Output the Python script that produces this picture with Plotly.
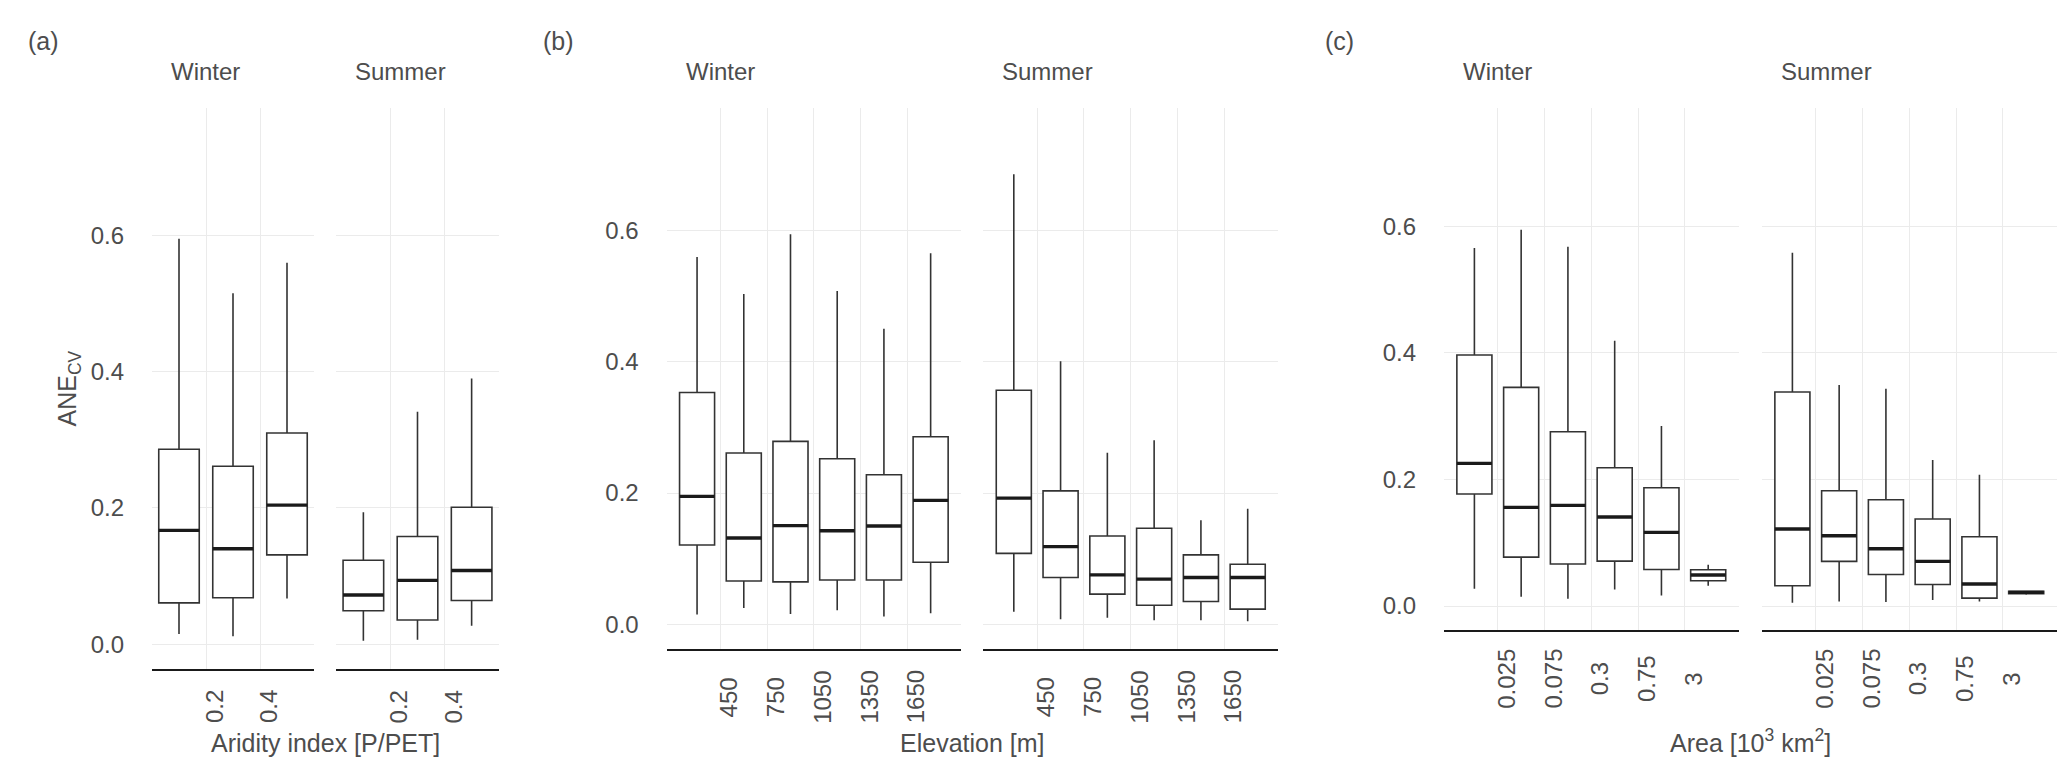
import plotly.graph_objects as go

W, H = 2067, 768
FONT = "Liberation Sans, Arial, sans-serif"
TXT = "#4D4D4D"
BOXC = "#333333"

# ---------------- data ----------------
seasons = ["Winter", "Summer"]

aridity_bins = ["<0.2", "0.2-0.4", ">0.4"]
aridity_ticks = ["0.2", "0.4"]
a_winter_low = [0.015, 0.0115, 0.067]
a_winter_q1 = [0.0605, 0.068, 0.131]
a_winter_med = [0.167, 0.140, 0.204]
a_winter_q3 = [0.286, 0.261, 0.310]
a_winter_high = [0.595, 0.515, 0.560]
a_summer_low = [0.005, 0.0064, 0.027]
a_summer_q1 = [0.049, 0.0353, 0.064]
a_summer_med = [0.072, 0.0935, 0.108]
a_summer_q3 = [0.123, 0.158, 0.201]
a_summer_high = [0.1935, 0.341, 0.390]

elev_bins = ["<450", "450-750", "750-1050", "1050-1350", "1350-1650", ">1650"]
elev_ticks = ["450", "750", "1050", "1350", "1650"]
b_winter_low = [0.0147, 0.0249, 0.0157, 0.0213, 0.0117, 0.0168]
b_winter_q1 = [0.1208, 0.066, 0.0645, 0.0675, 0.0675, 0.0944]
b_winter_med = [0.1949, 0.1315, 0.1503, 0.1426, 0.1497, 0.1888]
b_winter_q3 = [0.3533, 0.261, 0.2787, 0.2523, 0.2279, 0.2858]
b_winter_high = [0.560, 0.5036, 0.5944, 0.508, 0.4503, 0.5655]
b_summer_low = [0.019, 0.0075, 0.0097, 0.006, 0.006, 0.0045]
b_summer_q1 = [0.108, 0.0712, 0.0459, 0.029, 0.0347, 0.023]
b_summer_med = [0.1923, 0.1183, 0.0753, 0.0687, 0.0712, 0.0712]
b_summer_q3 = [0.3567, 0.2033, 0.1346, 0.1463, 0.1057, 0.0915]
b_summer_high = [0.686, 0.4008, 0.2613, 0.2806, 0.1584, 0.176]

area_bins = ["<0.025", "0.025-0.075", "0.075-0.3", "0.3-0.75", "0.75-3", ">3"]
area_ticks = ["0.025", "0.075", "0.3", "0.75", "3"]
c_winter_low = [0.0274, 0.0147, 0.0116, 0.0263, 0.0169, 0.0321]
c_winter_q1 = [0.177, 0.0774, 0.0664, 0.0711, 0.0579, 0.040]
c_winter_med = [0.2255, 0.1559, 0.1591, 0.1407, 0.1164, 0.049]
c_winter_q3 = [0.3967, 0.3456, 0.2755, 0.2186, 0.187, 0.0574]
c_winter_high = [0.5658, 0.5947, 0.5679, 0.4193, 0.2845, 0.0653]
c_summer_low = [0.0053, 0.0074, 0.0063, 0.0095, 0.0074, 0.018]
c_summer_q1 = [0.0321, 0.0706, 0.05, 0.0342, 0.0126, 0.0195]
c_summer_med = [0.1217, 0.1112, 0.0906, 0.0706, 0.0348, 0.0216]
c_summer_q3 = [0.3382, 0.1823, 0.168, 0.1375, 0.1096, 0.0232]
c_summer_high = [0.5584, 0.3493, 0.3435, 0.2307, 0.2076, 0.0237]

y_ticks = [0.0, 0.2, 0.4, 0.6]
y_tick_labels = ["0.0", "0.2", "0.4", "0.6"]

# ---------------- layout geometry (px) ----------------
panels = [
    dict(tag="(a)", tag_x=18, title="Aridity index [P/PET]", bins=aridity_bins, ticks=aridity_ticks,
         facets=[(144, 306), (328.3, 490.7)], bottom=661.3, xr=[-0.5, 2.5], ticky=699, titley=735,
         data=[(a_winter_low, a_winter_q1, a_winter_med, a_winter_q3, a_winter_high),
               (a_summer_low, a_summer_q1, a_summer_med, a_summer_q3, a_summer_high)]),
    dict(tag="(b)", tag_x=533, title="Elevation [m]", bins=elev_bins, ticks=elev_ticks,
         facets=[(658.7, 953), (975.4, 1270.1)], bottom=640.5, xr=[-0.65, 5.65], ticky=689, titley=735,
         data=[(b_winter_low, b_winter_q1, b_winter_med, b_winter_q3, b_winter_high),
               (b_summer_low, b_summer_q1, b_summer_med, b_summer_q3, b_summer_high)]),
    dict(tag="(c)", tag_x=1314.6, title="Area [10<sup>3</sup> km<sup>2</sup>]", bins=area_bins, ticks=area_ticks,
         facets=[(1436, 1730.6), (1754, 2048.6)], bottom=621.5, xr=[-0.65, 5.65], ticky=671, titley=733,
         data=[(c_winter_low, c_winter_q1, c_winter_med, c_winter_q3, c_winter_high),
               (c_summer_low, c_summer_q1, c_summer_med, c_summer_q3, c_summer_high)]),
]
TOP = 100
YR = [-0.037, 0.787]
BW = 0.75

fig = go.Figure()
layout = dict(width=W, height=H, margin=dict(l=0, r=0, t=0, b=0),
              paper_bgcolor="white", plot_bgcolor="white", showlegend=False,
              font=dict(family=FONT, size=24, color=TXT))
annotations = []

k = 0
for p in panels:
    n = len(p["bins"])
    pos = list(range(n))
    tickpos = [i + 0.5 for i in range(len(p["ticks"]))]
    for fi, (l, r) in enumerate(p["facets"]):
        k += 1
        xa = "x" if k == 1 else f"x{k}"
        ya = "y" if k == 1 else f"y{k}"
        low, q1, med, q3, high = p["data"][fi]
        fig.add_trace(go.Box(
            x=pos, lowerfence=low, q1=q1, median=med, q3=q3, upperfence=high,
            width=BW, whiskerwidth=0, boxpoints=False,
            fillcolor="white", line=dict(color=BOXC, width=1.6),
            xaxis=xa, yaxis=ya, hoverinfo="skip"))
        mx, my = [], []
        for i, m in zip(pos, med):
            mx += [i - BW / 2, i + BW / 2, None]
            my += [m, m, None]
        fig.add_trace(go.Scatter(x=mx, y=my, mode="lines",
                                 line=dict(color="#1A1A1A", width=3.4),
                                 xaxis=xa, yaxis=ya, hoverinfo="skip"))
        xkey = "xaxis" if k == 1 else f"xaxis{k}"
        ykey = "yaxis" if k == 1 else f"yaxis{k}"
        layout[xkey] = dict(domain=[l / W, r / W], anchor=ya, range=p["xr"],
                            tickmode="array", tickvals=tickpos, showticklabels=False,
                            ticks="", showgrid=True, gridcolor="#EBEBEB", gridwidth=1.3,
                            zeroline=False, showline=True, linecolor="#1A1A1A", linewidth=1.6,
                            fixedrange=True)
        layout[ykey] = dict(domain=[1 - p["bottom"] / H, 1 - TOP / H], anchor=xa, range=YR,
                            tickmode="array", tickvals=y_ticks, ticktext=y_tick_labels,
                            showticklabels=(fi == 0), ticks="", ticklabelstandoff=27,
                            tickfont=dict(size=24, color=TXT, family=FONT),
                            showgrid=True, gridcolor="#EBEBEB", gridwidth=1.3,
                            zeroline=False, showline=False, fixedrange=True)
        # strip label
        annotations.append(dict(text=seasons[fi], xref="paper", yref="paper",
                                x=(l + 17) / W, y=1 - 63.5 / H, xanchor="left", yanchor="middle",
                                showarrow=False, font=dict(size=24, color=TXT, family=FONT)))
        # rotated x tick labels
        for tv, tt in zip(tickpos, p["ticks"]):
            annotations.append(dict(text=tt, xref=xa, yref="paper", x=tv, y=1 - p["ticky"] / H,
                                    xanchor="center", yanchor="middle", textangle=-90, xshift=8,
                                    showarrow=False, font=dict(size=24, color=TXT, family=FONT)))
    # panel tag
    annotations.append(dict(text=p["tag"], xref="paper", yref="paper", x=p["tag_x"] / W,
                            y=1 - 32.5 / H, xanchor="left", yanchor="middle", showarrow=False,
                            font=dict(size=25, color=TXT, family=FONT)))
    # x title
    cx = (p["facets"][0][0] + p["facets"][1][1]) / 2
    annotations.append(dict(text=p["title"], xref="paper", yref="paper", x=cx / W,
                            y=1 - p["titley"] / H, xanchor="center", yanchor="middle",
                            showarrow=False, font=dict(size=25, color=TXT, family=FONT)))

# y title
annotations.append(dict(text="ANE<sub>CV</sub>", xref="paper", yref="paper", x=61 / W,
                        y=1 - 380.5 / H, xanchor="center", yanchor="middle", textangle=-90,
                        showarrow=False, font=dict(size=25, color=TXT, family=FONT)))

layout["annotations"] = annotations
fig.update_layout(**layout)
fig.write_html("out.html")
